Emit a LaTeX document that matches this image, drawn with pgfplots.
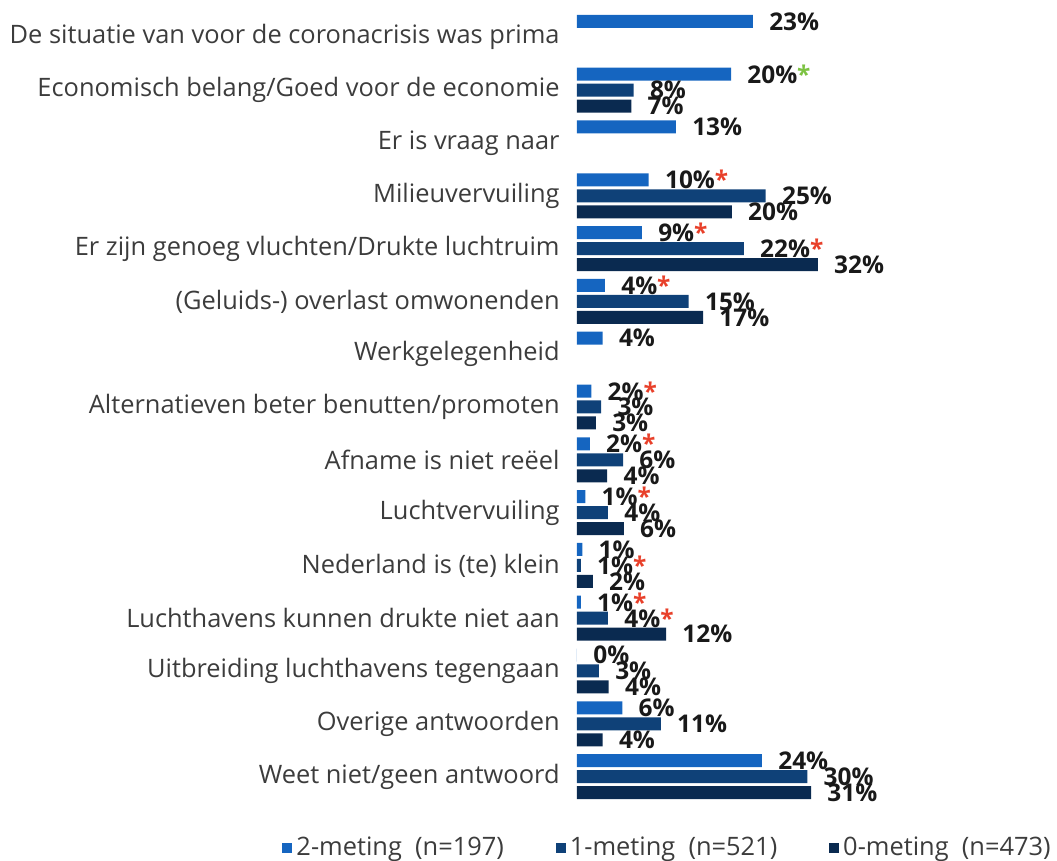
\documentclass[border=0pt]{standalone}
\usepackage{fontspec}
\setmainfont{Open Sans}
\usepackage{pgfplots}
\pgfplotsset{compat=1.18}
\definecolor{cA}{HTML}{1565C0}
\definecolor{cB}{HTML}{0F4178}
\definecolor{cC}{HTML}{0A2A50}
\definecolor{astred}{HTML}{E8402A}
\definecolor{astgreen}{HTML}{7CC242}
\definecolor{lblgray}{HTML}{3C3C3C}
\newcommand{\rs}{\textcolor{astred}{*}}
\newcommand{\gs}{\textcolor{astgreen}{*}}
\begin{document}
\begin{tikzpicture}
\path[use as bounding box] (-288.5pt,-29pt) rectangle (240pt,401.5pt);
\begin{axis}[
 at={(0,0)}, anchor=south west,
 scale only axis, width=151pt, height=396pt,
 xmin=0, xmax=40, ymin=-0.5, ymax=14.5, y dir=reverse,
 xbar, bar width=6.5pt, bar shift=0pt,
 axis line style={draw=none},
 xtick=\empty,
 ytick={0,...,14},
 yticklabels={De situatie van voor de coronacrisis was prima,
  Economisch belang/Goed voor de economie,
  Er is vraag naar,
  Milieuvervuiling,
  Er zijn genoeg vluchten/Drukte luchtruim,
  (Geluids-) overlast omwonenden,
  Werkgelegenheid,
  Alternatieven beter benutten/promoten,
  Afname is niet reëel,
  Luchtvervuiling,
  Nederland is (te) klein,
  Luchthavens kunnen drukte niet aan,
  Uitbreiding luchthavens tegengaan,
  Overige antwoorden,
  Weet niet/geen antwoord},
 major tick length=0pt,
 yticklabel style={inner sep=0pt, xshift=-8.5pt, font=\fontsize{12.7}{14}\selectfont, text=lblgray},
 clip=false,
 point meta=explicit symbolic,
 nodes near coords,
 nodes near coords style={anchor=west, inner sep=0pt, xshift=8pt, font=\fontsize{12.2}{14}\selectfont\bfseries, text=black!90},
 legend style={at={(1.583,-0.057)}, anchor=east, draw=none, fill=none, inner sep=0pt,
   font=\fontsize{12.7}{14}\selectfont, text=lblgray,
   /tikz/every even column/.append style={column sep=24pt}},
 legend columns=3,
 legend image code/.code={\fill[#1] (-2pt,-2.5pt) rectangle (3pt,2.5pt);},
]
\addplot[fill=cA, draw=none] coordinates {
 (23.3,-0.303) [23\%]
 (20.4,0.697) [20\%\gs]
 (13.1,1.697) [13\%]
 (9.5,2.697) [10\%\rs]
 (8.6,3.697) [9\%\rs]
 (3.7,4.697) [4\%\rs]
 (3.4,5.697) [4\%]
 (1.9,6.697) [2\%\rs]
 (1.7,7.697) [2\%\rs]
 (1.1,8.697) [1\%\rs]
 (0.7,9.697) [1\%]
 (0.5,10.697) [1\%\rs]
 (0,11.697) [0\%]
 (6.0,12.697) [6\%]
 (24.5,13.697) [24\%]
};
\addlegendentry{2-meting\ \ (n=197)}
\addplot[fill=cB, draw=none] coordinates {
 (7.5,1) [8\%]
 (25.0,3) [25\%]
 (22.1,4) [22\%\rs]
 (14.8,5) [15\%]
 (3.2,7) [3\%]
 (6.1,8) [6\%]
 (4.1,9) [4\%]
 (0.5,10) [1\%\rs]
 (4.1,11) [4\%\rs]
 (2.9,12) [3\%]
 (11.1,13) [11\%]
 (30.5,14) [30\%]
};
\addlegendentry{1-meting\ \ (n=521)}
\addplot[fill=cC, draw=none] coordinates {
 (7.2,1.303) [7\%]
 (20.5,3.303) [20\%]
 (31.9,4.303) [32\%]
 (16.7,5.303) [17\%]
 (2.5,7.303) [3\%]
 (4.0,8.303) [4\%]
 (6.2,9.303) [6\%]
 (2.1,10.303) [2\%]
 (11.8,11.303) [12\%]
 (4.2,12.303) [4\%]
 (3.4,13.303) [4\%]
 (31.0,14.303) [31\%]
};
\addlegendentry{0-meting\ \ (n=473)}
\end{axis}
\end{tikzpicture}
\end{document}
